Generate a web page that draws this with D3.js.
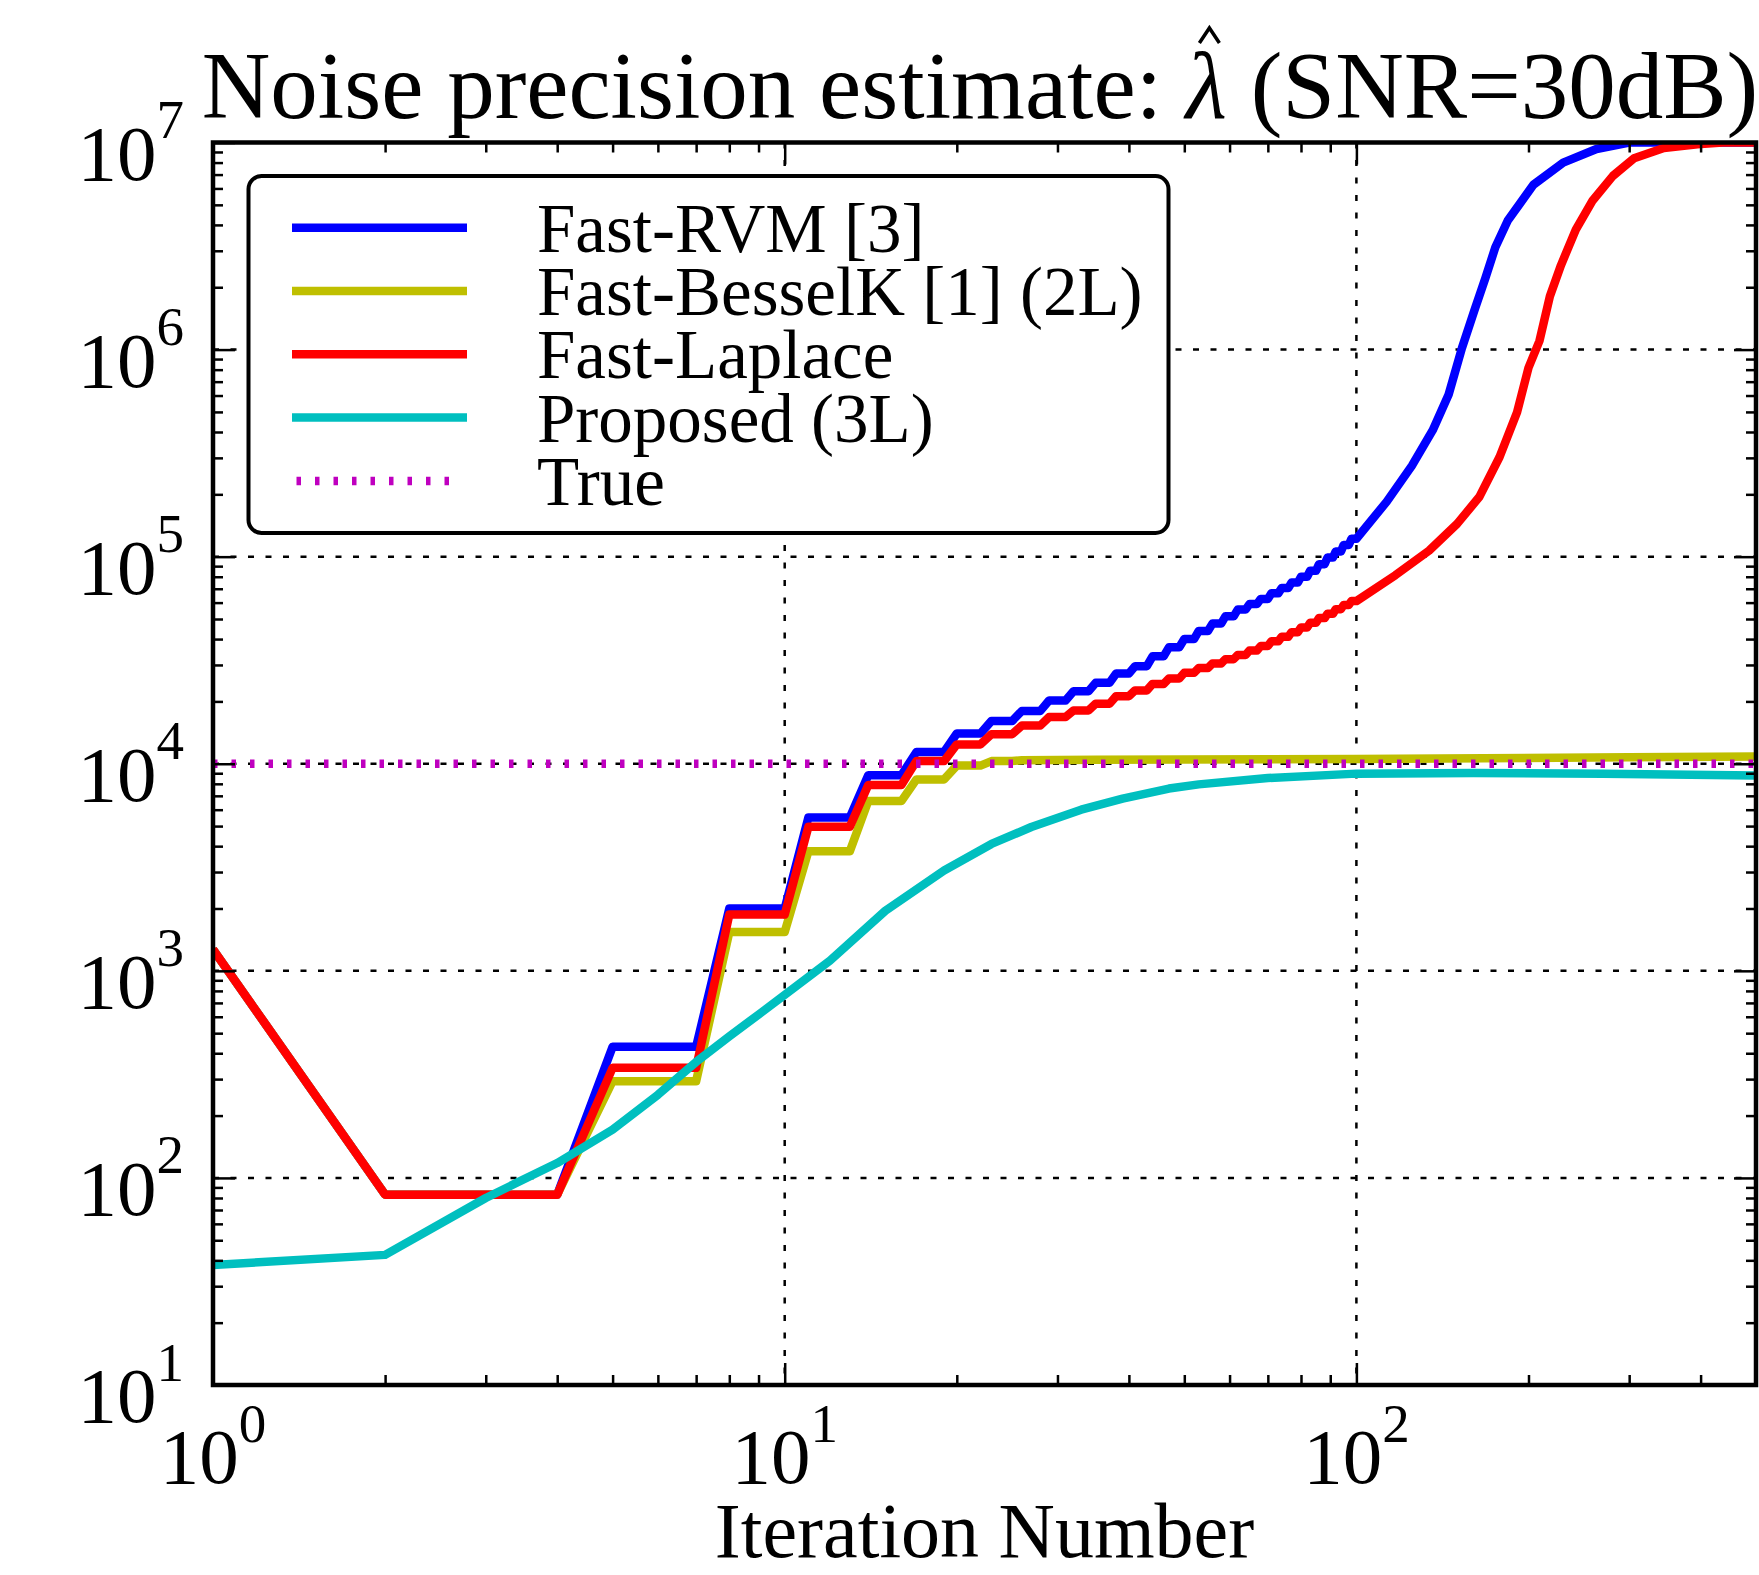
<!DOCTYPE html>
<html>
<head>
<meta charset="utf-8">
<script src="https://cdn.jsdelivr.net/npm/d3@7"></script>
<style>
  body { margin: 0; background: #fff; }
  text { font-family: 'Liberation Serif', 'Times New Roman', serif; fill: #000; white-space: pre; }
</style>
</head>
<body>
<svg class="svgChart"></svg>
<script>
/******************DATA*********************/
// [iteration, noise precision estimate]
const fastRvm = [
  [1, 1270], [2, 83], [4, 83], [5, 430], [7, 430], [8, 2000], [10, 2000],
  [11, 5500], [13, 5500], [14, 8800], [16, 8800], [17, 11400], [19, 11400],
  [20, 14000], [22, 14000], [23, 16100], [25, 16100], [26, 18000], [28, 18000],
  [29, 20200], [31, 20200], [32, 22400], [34, 22400], [35, 24600], [37, 24600],
  [38, 27300], [40, 27300], [41, 29600], [43, 29600], [44, 33000], [46, 33000],
  [47, 36500], [49, 36500], [50, 40000], [52, 40000], [53, 43800], [55, 43800],
  [56, 47500], [58, 47500], [59, 51500], [61, 51500], [62, 55500], [64, 55500],
  [65, 59000], [67, 59000], [68, 62500], [70, 62500], [71, 66500], [73, 66500],
  [74, 70500], [76, 70500], [77, 75000], [79, 75000], [80, 80000], [82, 80000],
  [83, 85500], [85, 85500], [86, 92000], [88, 92000], [89, 99000], [91, 99000],
  [92, 106000], [94, 106000], [95, 114000], [97, 114000], [98, 122000], [100, 122000],
  [113, 184500], [125, 274600], [136, 408000], [145, 607000], [153, 1.02e6],
  [161, 1.56e6], [168, 2.2e6], [175, 3.12e6], [184, 4.2e6], [204, 6.25e6],
  [230, 8.0e6], [263, 9.3e6], [300, 1e7], [500, 1e7]
];
const fastBesselK = [
  [1, 1270], [2, 83], [4, 83], [5, 293], [7, 293], [8, 1540], [10, 1540],
  [11, 3780], [13, 3780], [14, 6600], [16, 6600], [17, 8400], [19, 8400],
  [20, 9800], [22, 9800], [23, 10300], [25, 10300], [26, 10400], [35, 10450],
  [100, 10550], [300, 10750], [500, 10850]
];
const fastLaplace = [
  [1, 1270], [2, 83], [4, 83], [5, 340], [7, 340], [8, 1870], [10, 1870],
  [11, 4960], [13, 4960], [14, 7900], [16, 7900], [17, 10300], [19, 10300],
  [20, 12400], [22, 12400], [23, 13900], [25, 13900], [26, 15300], [28, 15300],
  [29, 16800], [31, 16800], [32, 18100], [34, 18100], [35, 19500], [37, 19500],
  [38, 21200], [40, 21200], [41, 22600], [43, 22600], [44, 24300], [46, 24300],
  [47, 25800], [49, 25800], [50, 27500], [52, 27500], [53, 29000], [55, 29000],
  [56, 30500], [58, 30500], [59, 32000], [61, 32000], [62, 33500], [64, 33500],
  [65, 35200], [67, 35200], [68, 37000], [70, 37000], [71, 39000], [73, 39000],
  [74, 41000], [76, 41000], [77, 43200], [79, 43200], [80, 45500], [82, 45500],
  [83, 48000], [85, 48000], [86, 50500], [88, 50500], [89, 53000], [91, 53000],
  [92, 55800], [94, 55800], [95, 58500], [97, 58500], [98, 61000], [100, 61000],
  [117, 81400], [134, 107000], [150, 144000], [164, 194000], [178, 303000],
  [191, 498000], [200, 817000], [209, 1.1e6], [218, 1.81e6], [228, 2.56e6],
  [242, 3.8e6], [259, 5.25e6], [281, 6.9e6], [306, 8.4e6], [345, 9.4e6],
  [395, 9.8e6], [437, 1e7], [500, 1e7]
];
const proposed = [
  [1, 38], [2, 42.5], [3, 80], [4, 118], [5, 171], [6, 252], [7, 363],
  [8, 483], [9, 615], [10, 765], [12, 1120], [15, 1950], [19, 3050],
  [23, 4100], [27, 4950], [33, 6000], [39, 6780], [47, 7590], [53, 7950],
  [70, 8530], [100, 8960], [160, 9030], [270, 8960], [500, 8770]
];
const trueValue = [[1, 1e4], [500, 1e4]];

const seriesNames = ['Fast-RVM [3]', 'Fast-BesselK [1] (2L)', 'Fast-Laplace', 'Proposed (3L)', 'True'];
const seriesData = [fastRvm, fastBesselK, fastLaplace, proposed, trueValue];
const seriesColors = ['#0000ff', '#bfbf00', '#ff0000', '#00bfbf', '#bf00bf'];

const xTickExps = [0, 1, 2];
const yTickExps = [1, 2, 3, 4, 5, 6, 7];
const xDomain = [1, 500];
const yDomain = [10, 1e7];

/******************LAYOUT*********************/
const margin = { top: 142.5, right: 3, bottom: 190, left: 213 };
const width = 1759 - margin.left - margin.right;
const height = 1575 - margin.top - margin.bottom;
const lineW = 8.5;

const svg = d3.select('.svgChart')
  .attr('width', 1759)
  .attr('height', 1575);

const xScale = d3.scaleLog().domain(xDomain).range([0, width]);
const yScale = d3.scaleLog().domain(yDomain).range([height, 0]);

//minor ticks: 2..9 times each decade
const minorOf = (lo, hi) => {
  let arr = [];
  for (let e = Math.floor(Math.log10(lo)); e <= Math.ceil(Math.log10(hi)); e++) {
    for (let m = 2; m <= 9; m++) {
      let v = m * 10 ** e;
      if (v > lo && v < hi) arr.push(v);
    }
  }
  return arr;
};
const xMajor = xTickExps.map(e => 10 ** e);
const yMajor = yTickExps.map(e => 10 ** e);
const xMinor = minorOf(xDomain[0], xDomain[1]);
const yMinor = minorOf(yDomain[0], yDomain[1]);

const g = svg.append('g')
  .attr('transform', `translate(${margin.left}, ${margin.top})`);

g.append('clipPath')
  .attr('id', 'plotClip')
  .append('rect')
    .attr('width', width)
    .attr('height', height);

/******************GRID*********************/
const grid = g.append('g').attr('class', 'grid')
  .attr('stroke', '#000')
  .attr('stroke-width', 2.5)
  .attr('stroke-dasharray', '6,11.5');

grid.selectAll('.gx')
  .data(xMajor.filter(v => v > xDomain[0]))
  .join('line')
    .attr('x1', d => xScale(d))
    .attr('x2', d => xScale(d))
    .attr('y1', 0)
    .attr('y2', height);

grid.selectAll('.gy')
  .data(yMajor.filter(v => v > yDomain[0] && v < yDomain[1]))
  .join('line')
    .attr('class', 'gy')
    .attr('x1', 0)
    .attr('x2', width)
    .attr('y1', d => yScale(d))
    .attr('y2', d => yScale(d));

/******************LINES*********************/
const line = d3.line()
  .x(d => xScale(d[0]))
  .y(d => yScale(d[1]));

g.append('g')
  .attr('clip-path', 'url(#plotClip)')
  .selectAll('path')
  .data(seriesData)
  .join('path')
    .attr('d', d => line(d))
    .attr('fill', 'none')
    .attr('stroke', (d, i) => seriesColors[i])
    .attr('stroke-width', lineW)
    .attr('stroke-linejoin', 'round')
    .attr('stroke-dasharray', (d, i) => i === 4 ? '4.5,14' : null);

/******************TICKS*********************/
const drawTicks = (axis, values, size, transform) => {
  let ax = g.append('g')
    .attr('transform', transform)
    .call(axis.tickValues(values).tickSize(-size).tickFormat(''));
  ax.select('.domain').remove();
  ax.selectAll('line').attr('stroke-width', 2.5);
};
drawTicks(d3.axisBottom(xScale), xMajor, 22, `translate(0, ${height})`);
drawTicks(d3.axisBottom(xScale), xMinor, 10, `translate(0, ${height})`);
drawTicks(d3.axisTop(xScale), xMajor, 22, 'translate(0, 0)');
drawTicks(d3.axisTop(xScale), xMinor, 10, 'translate(0, 0)');
drawTicks(d3.axisLeft(yScale), yMajor, 22, 'translate(0, 0)');
drawTicks(d3.axisLeft(yScale), yMinor, 10, 'translate(0, 0)');
drawTicks(d3.axisRight(yScale), yMajor, 22, `translate(${width}, 0)`);
drawTicks(d3.axisRight(yScale), yMinor, 10, `translate(${width}, 0)`);

//frame on top
g.append('rect')
  .attr('width', width)
  .attr('height', height)
  .attr('fill', 'none')
  .attr('stroke', '#000')
  .attr('stroke-width', 4.5);

/******************TICK LABELS*********************/
const yLabels = svg.append('g')
  .selectAll('text')
  .data(yTickExps)
  .join('text')
    .attr('x', margin.left - 29)
    .attr('y', d => margin.top + yScale(10 ** d) + 37)
    .attr('text-anchor', 'end')
    .attr('font-size', 79);
yLabels.append('tspan').text('10');
yLabels.append('tspan').attr('font-size', 55).attr('dy', -41.5).text(d => d);

const xLabels = svg.append('g')
  .selectAll('text')
  .data(xTickExps)
  .join('text')
    .attr('x', d => margin.left + xScale(10 ** d))
    .attr('y', margin.top + height + 98)
    .attr('text-anchor', 'middle')
    .attr('font-size', 79);
xLabels.append('tspan').text('10');
xLabels.append('tspan').attr('font-size', 55).attr('dy', -41.5).text(d => d);

svg.append('text')
  .attr('x', margin.left + width / 2)
  .attr('y', 1557)
  .attr('text-anchor', 'middle')
  .attr('font-size', 78)
  .text('Iteration Number');

/******************TITLE*********************/
const title = svg.append('text')
  .attr('x', 980)
  .attr('y', 118)
  .attr('text-anchor', 'middle')
  .attr('font-size', 95);
title.append('tspan').text('Noise precision estimate: ');
title.append('tspan').attr('font-style', 'italic').text('λ');
title.append('tspan').text(' (SNR=30dB)');

//hat accent over lambda
const lamIdx = 'Noise precision estimate: '.length;
const ext = title.node().getExtentOfChar(lamIdx);
const hatX = ext.x + ext.width / 2 + 3;
svg.append('path')
  .attr('d', `M${hatX - 10},${118 - 75} L${hatX},${118 - 90} L${hatX + 10},${118 - 75}`)
  .attr('fill', 'none')
  .attr('stroke', '#000')
  .attr('stroke-width', 3.5);

/******************LEGEND*********************/
const legend = svg.append('g').attr('class', 'legend');
legend.append('rect')
  .attr('x', 248.5)
  .attr('y', 176)
  .attr('width', 920)
  .attr('height', 357)
  .attr('rx', 13)
  .attr('fill', '#fff')
  .attr('stroke', '#000')
  .attr('stroke-width', 4);

const rows = legend.selectAll('.row')
  .data(seriesNames)
  .join('g')
    .attr('class', 'row')
    .attr('transform', (d, i) => `translate(0, ${227.7 + i * 63.3})`);

rows.append('line')
  .attr('x1', (d, i) => i === 4 ? 296.5 : 292)
  .attr('x2', (d, i) => i === 4 ? 462 : 467)
  .attr('stroke', (d, i) => seriesColors[i])
  .attr('stroke-width', lineW)
  .attr('stroke-dasharray', (d, i) => i === 4 ? '4.5,14' : null);

rows.append('text')
  .attr('x', 537)
  .attr('y', 24)
  .attr('font-size', 69)
  .text(d => d);
</script>
</body>
</html>
